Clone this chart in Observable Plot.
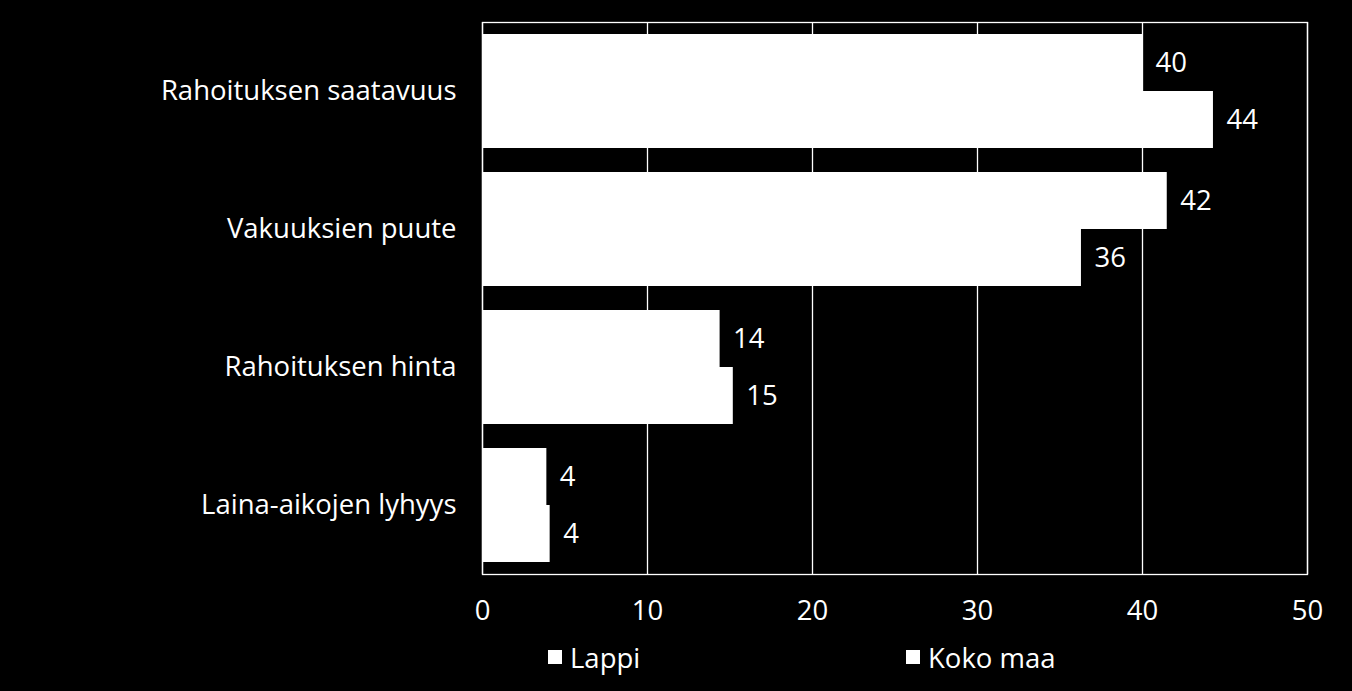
<!DOCTYPE html>
<html>
<head>
<meta charset="utf-8">
<script src="https://cdn.jsdelivr.net/npm/d3@7"></script>
<script src="https://cdn.jsdelivr.net/npm/@observablehq/plot@0.6"></script>
<style>
  html, body { margin: 0; padding: 0; background: #000; }
  #wrap { position: relative; width: 1352px; height: 691px; background: #000; overflow: hidden; font-family: "Open Sans", Lato, sans-serif; }
  .leg { position: absolute; top: 640px; height: 34px; display: flex; align-items: center; color: #fff; font-size: 27.5px; }
  .sw { width: 14px; height: 14px; background: #fff; margin-right: 8px; }
</style>
</head>
<body>
<div id="wrap">
  <div id="chart"></div>
  <div class="leg" style="left:548px"><div class="sw"></div><span>Lappi</span></div>
  <div class="leg" style="left:906px"><div class="sw"></div><span>Koko maa</span></div>
</div>
<script>
const categories = ["Rahoituksen saatavuus", "Vakuuksien puute", "Rahoituksen hinta", "Laina-aikojen lyhyys"];
const seriesNames = ["Lappi", "Koko maa"];
const lappi = [40.0, 41.5, 14.4, 3.9];
const kokoMaa = [44.3, 36.3, 15.2, 4.1];
const xTicks = [0, 10, 20, 30, 40, 50];

const lappiData = categories.map((c, i) => ({category: c, series: seriesNames[0], value: lappi[i]}));
const kokoData = categories.map((c, i) => ({category: c, series: seriesNames[1], value: kokoMaa[i]}));
const fs = 27.5;

const chart = Plot.plot({
  width: 1352,
  height: 640,
  marginLeft: 482,
  marginRight: 45,
  marginTop: 22,
  marginBottom: 66,
  style: {background: "#000", color: "#fff", fontFamily: "'Open Sans', Lato, sans-serif", fontSize: fs + "px"},
  x: {domain: [0, 50]},
  y: {domain: categories, padding: 0},
  marks: [
    Plot.ruleX(xTicks, {stroke: "#fff", strokeWidth: 1.3, strokeOpacity: 1}),
    Plot.frame({stroke: "#fff", strokeWidth: 1.3}),
    Plot.barX(lappiData, {x: "value", y: "category", fill: "#fff", insetTop: 12, insetBottom: 69}),
    Plot.barX(kokoData, {x: "value", y: "category", fill: "#fff", insetTop: 69, insetBottom: 12}),
    Plot.text(lappiData, {x: "value", y: "category", text: d => d3.format(".0f")(d.value), textAnchor: "start", dx: 13, dy: -28.5, fill: "#fff", fontSize: fs}),
    Plot.text(kokoData, {x: "value", y: "category", text: d => d3.format(".0f")(d.value), textAnchor: "start", dx: 13, dy: 28.5, fill: "#fff", fontSize: fs}),
    Plot.axisX(xTicks, {tickSize: 0, tickPadding: 26, fontSize: fs, color: "#fff", label: null}),
    Plot.axisY({tickSize: 0, tickPadding: 26, fontSize: fs, color: "#fff", label: null})
  ]
});
document.getElementById("chart").appendChild(chart);
</script>
</body>
</html>
